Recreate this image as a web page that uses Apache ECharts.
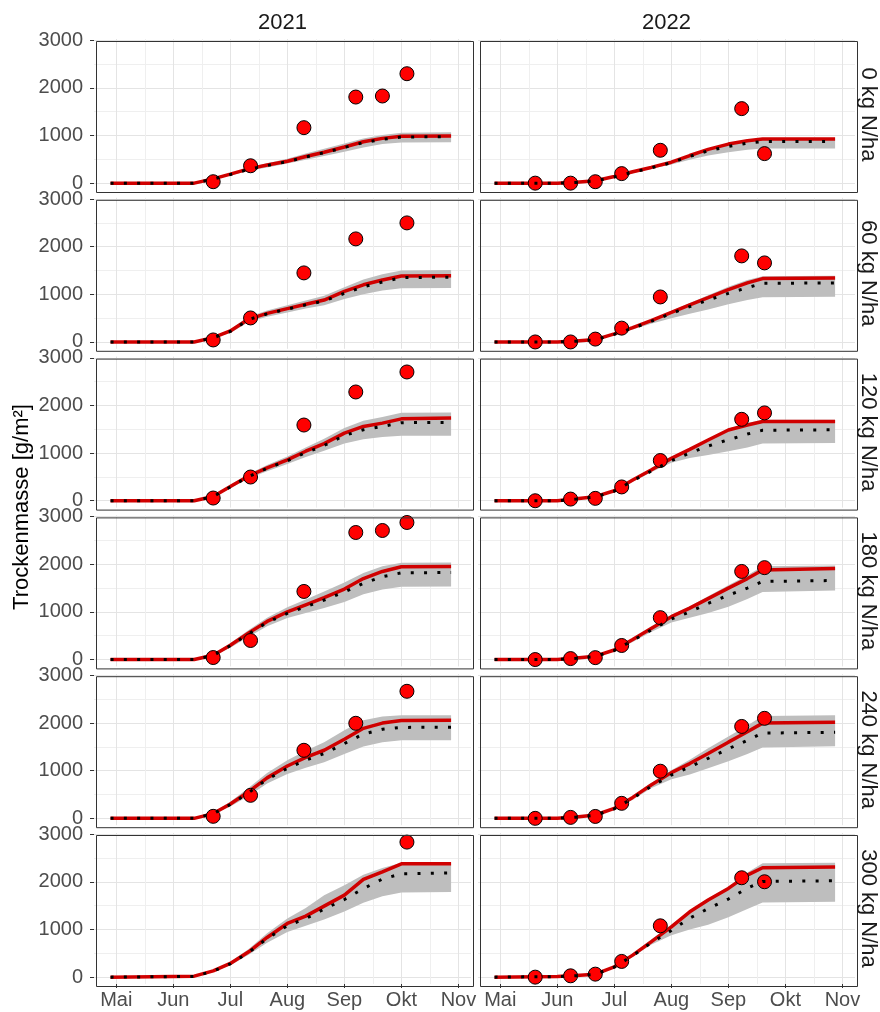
<!DOCTYPE html>
<html><head><meta charset="utf-8">
<script src="https://cdn.jsdelivr.net/npm/echarts@6/dist/echarts.min.js"></script>
<style>html,body{margin:0;padding:0;background:#fff}#c{width:880px;height:1012px}</style>
</head><body><div id="c"></div><script>
const monthLabels = ['Mai','Jun','Jul','Aug','Sep','Okt','Nov'];
const yearLabels = ['2021','2022'];
const nLabels = ['0 kg N/ha','60 kg N/ha','120 kg N/ha','180 kg N/ha','240 kg N/ha','300 kg N/ha'];
const yTicks = [0, 1000, 2000, 3000];

const simDates2021 = ['04-28','06-12','06-22','07-01','07-11','07-21','08-01','08-11','08-21','09-01','09-11','09-21','10-01','10-28'];
const red2021 = [
 [0,0,90,190,300,380,460,560,650,760,870,940,985,990],
 [0,0,90,230,480,600,700,790,880,1060,1200,1300,1385,1390],
 [0,0,90,300,520,690,860,1040,1200,1420,1560,1630,1720,1737],
 [0,0,90,300,560,800,1000,1150,1300,1480,1700,1850,1950,1955],
 [0,0,100,300,560,850,1100,1280,1430,1660,1890,2000,2055,2059],
 [0,20,133,287,532,833,1127,1281,1491,1722,2052,2212,2380,2380]
];
const dot2021 = [
 [0,0,85,180,290,370,450,550,640,750,850,920,970,975],
 [0,0,85,220,470,590,690,780,860,1020,1160,1260,1350,1360],
 [0,0,85,290,510,680,840,1010,1160,1370,1490,1560,1640,1645],
 [0,0,85,290,540,780,970,1110,1250,1420,1600,1740,1820,1830],
 [0,0,95,290,540,820,1050,1220,1360,1570,1770,1870,1910,1912],
 [0,15,125,280,520,810,1080,1230,1430,1630,1860,2060,2170,2191]
];
const lo2021 = [
 [0,0,75,160,260,330,410,490,570,660,750,820,855,860],
 [0,0,75,190,420,530,620,700,770,900,1000,1080,1125,1135],
 [0,0,75,260,470,620,770,920,1050,1200,1290,1340,1365,1365],
 [0,0,75,250,480,700,870,980,1080,1210,1370,1470,1530,1535],
 [0,0,80,250,470,730,930,1060,1180,1350,1510,1600,1640,1640],
 [0,0,110,250,470,720,950,1080,1210,1380,1560,1700,1775,1790]
];
const hi2021 = [
 [0,0,110,210,330,420,510,620,720,830,940,1010,1060,1070],
 [0,0,110,260,530,660,770,870,970,1150,1310,1420,1500,1510],
 [0,0,110,330,560,750,930,1120,1300,1530,1680,1760,1850,1855],
 [0,0,110,340,620,880,1100,1260,1430,1620,1820,1960,2035,2040],
 [0,0,120,350,640,950,1220,1420,1600,1850,2060,2140,2165,2165],
 [0,30,150,320,590,920,1230,1450,1720,1930,2150,2290,2400,2400]
];
const obsDates2021 = ['06-22','07-12','08-10','09-07','09-21','10-04'];
const obs2021 = [
 [30,365,1165,1808,1830,2298],
 [42,504,1450,2164,null,2500],
 [57,498,1590,2284,null,2704],
 [42,400,1430,2668,2710,2878],
 [42,483,1429,1996,null,2668],
 [null,null,null,null,null,2836]
];

const simDates2022 = ['04-28','06-01','06-11','06-21','07-01','07-11','07-21','08-01','08-11','08-21','09-01','09-11','09-19','10-28'];
const red2022 = [
 [0,0,20,50,140,240,330,440,580,710,820,890,926,926],
 [0,0,20,50,170,300,450,620,780,930,1100,1240,1330,1345],
 [0,0,40,85,210,435,645,890,1080,1275,1485,1590,1665,1665],
 [0,0,30,70,200,420,650,900,1080,1280,1500,1700,1880,1912],
 [0,0,30,70,210,440,700,960,1150,1360,1600,1820,2000,2017],
 [0,15,35,63,217,462,742,1057,1372,1618,1863,2143,2297,2311]
];
const dot2022 = [
 [0,0,15,45,130,230,320,430,560,680,770,840,875,877],
 [0,0,15,45,160,290,430,600,740,880,1020,1140,1230,1240],
 [0,0,35,80,200,420,620,840,1000,1150,1280,1400,1480,1490],
 [0,0,25,65,190,400,620,850,1000,1180,1350,1500,1640,1660],
 [0,0,25,65,200,420,670,910,1080,1260,1460,1640,1790,1807],
 [0,12,30,60,210,450,720,980,1240,1440,1640,1870,2010,2023]
];
const lo2022 = [
 [0,0,15,40,120,210,300,390,490,580,650,700,725,730],
 [0,0,15,40,150,260,380,500,590,680,790,880,940,950],
 [0,0,30,70,190,400,600,800,900,960,1040,1120,1200,1210],
 [0,0,20,55,170,370,580,780,880,980,1110,1270,1420,1450],
 [0,0,20,55,180,390,630,820,920,1050,1200,1350,1490,1512],
 [0,10,25,55,200,430,680,880,1000,1100,1260,1430,1570,1582]
];
const hi2022 = [
 [0,0,22,55,145,245,335,450,590,720,830,900,935,935],
 [0,0,22,55,180,315,470,650,820,980,1160,1300,1380,1390],
 [0,0,45,90,220,450,670,920,1110,1300,1510,1630,1700,1700],
 [0,0,35,80,215,440,680,930,1120,1330,1560,1770,1960,1975],
 [0,0,35,80,225,470,740,1010,1230,1470,1720,1950,2150,2164],
 [0,18,40,70,230,490,790,1100,1400,1650,1900,2200,2390,2400]
];
const obsDates2022 = ['05-20','06-08','06-21','07-05','07-26','09-08','09-20'];
const obs2022 = [
 [0,0,30,200,690,1565,620],
 [0,0,60,290,945,1807,1660],
 [0,35,50,290,845,1710,1845],
 [0,20,40,295,880,1850,1930],
 [0,20,40,315,990,1930,2100],
 [0,28,63,330,1078,2087,2003]
];

// ---- build ----
const DIM = [31,28,31,30,31,30,31,31,30,31,30,31];
function mf(md){ const p = md.split('-').map(Number); return (p[0]-5) + (p[1]-1)/DIM[p[0]-1]; }
const years = [
  {sim: simDates2021, red: red2021, dot: dot2021, lo: lo2021, hi: hi2021, od: obsDates2021, obs: obs2021},
  {sim: simDates2022, red: red2022, dot: dot2022, lo: lo2022, hi: hi2022, od: obsDates2022, obs: obs2022}
];
const LEFT = [94, 478], W = 377, TOP0 = 39, DY = 158.8, H = 151;
const FONT = 'Liberation Sans, Arial, sans-serif';
const grids = [], xAxes = [], yAxes = [], series = [], graphics = [];
function bandSeries(gi, xs, lo, hi) {
  return {type: 'custom', xAxisIndex: gi, yAxisIndex: gi, silent: true, z: 1,
    data: xs.map((x, i) => [x, lo[i], hi[i]]),
    encode: {x: 0, y: [1, 2]},
    renderItem: (params, api) => {
      if (params.dataIndex !== 0) return null;
      const up = xs.map((x, i) => api.coord([x, hi[i]]));
      const dn = xs.map((x, i) => api.coord([x, lo[i]])).reverse();
      return {type: 'polygon', shape: {points: up.concat(dn)}, style: {fill: '#bebebe', stroke: null}};
    }};
}
for (let r = 0; r < 6; r++) {
  for (let c = 0; c < 2; c++) {
    const gi = grids.length;
    const top = TOP0 + r * DY;
    grids.push({left: LEFT[c], top: top, width: W, height: H, show: true, backgroundColor: '#fff', borderWidth: 0, containLabel: false});
    xAxes.push({
      type: 'value', gridIndex: gi, min: -0.39, max: 6.22,
      axisLine: {show: false, onZero: false},
      axisTick: {show: r === 5, length: 4, lineStyle: {color: '#333', width: 1}, customValues: [0,1,2,3,4,5,6]},
      axisLabel: {show: r === 5, customValues: [0,1,2,3,4,5,6], margin: 6,
        fontSize: 20, fontFamily: FONT, color: '#4d4d4d',
        formatter: v => (monthLabels[Math.round(v)] || '')},
      splitLine: {show: true, lineStyle: {color: '#e4e4e4', width: 1}},
      minorTick: {show: false, splitNumber: 2},
      minorSplitLine: {show: true, lineStyle: {color: '#efefef', width: 1}}
    });
    yAxes.push({
      type: 'value', gridIndex: gi, min: -144, max: 3027, splitNumber: 3,
      axisLine: {show: false, onZero: false},
      axisTick: {show: c === 0, length: 4, lineStyle: {color: '#333', width: 1}, customValues: yTicks},
      axisLabel: {show: c === 0, customValues: yTicks, margin: 11,
        fontSize: 20, fontFamily: FONT, color: '#4d4d4d', formatter: v => String(v)},
      splitLine: {show: true, lineStyle: {color: '#e4e4e4', width: 1}},
      minorTick: {show: false, splitNumber: 2},
      minorSplitLine: {show: true, lineStyle: {color: '#efefef', width: 1}}
    });
    const Y = years[c];
    const xs = Y.sim.map(mf);
    series.push(bandSeries(gi, xs, Y.lo[r], Y.hi[r]));
    series.push({type: 'line', xAxisIndex: gi, yAxisIndex: gi, symbol: 'none', silent: true,
      lineStyle: {color: '#d00000', width: 3.5}, data: xs.map((x, i) => [x, Y.red[r][i]]), z: 2});
    const pts = [];
    Y.od.forEach((d, i) => { const v = Y.obs[r][i]; if (v !== null) pts.push([mf(d), v]); });
    series.push({type: 'scatter', xAxisIndex: gi, yAxisIndex: gi, symbolSize: 14, silent: true,
      itemStyle: {color: '#ff0000', borderColor: '#000', borderWidth: 1, opacity: 1}, data: pts, z: 3});
    series.push({type: 'line', xAxisIndex: gi, yAxisIndex: gi, symbol: 'none', silent: true,
      lineStyle: {color: '#000', width: 3, type: [3, 10.3], cap: 'butt'}, data: xs.map((x, i) => [x, Y.dot[r][i]]), z: 4});
    graphics.push({type: 'rect', left: LEFT[c], top: top, z: 100, silent: true,
      shape: {x: 0, y: 0, width: W, height: H}, style: {fill: 'none', stroke: '#333', lineWidth: 1}});
  }
  graphics.push({type: 'text', x: 868, y: TOP0 + r * DY + H / 2, rotation: -Math.PI / 2, z: 100, silent: true,
    style: {text: nLabels[r], font: '22px ' + FONT, fill: '#1a1a1a', align: 'center', verticalAlign: 'middle', textAlign: 'center', textVerticalAlign: 'middle'}});
}
yearLabels.forEach((t, c) => graphics.push({type: 'text', x: LEFT[c] + W / 2, y: 23, z: 100, silent: true,
  style: {text: t, font: '22px ' + FONT, fill: '#1a1a1a', align: 'center', verticalAlign: 'middle', textAlign: 'center', textVerticalAlign: 'middle'}}));
graphics.push({type: 'text', x: 22, y: 507, rotation: Math.PI / 2, z: 100, silent: true,
  style: {text: 'Trockenmasse [g/m²]', font: '22px ' + FONT, fill: '#000', align: 'center', verticalAlign: 'middle', textAlign: 'center', textVerticalAlign: 'middle'}});

const chart = echarts.init(document.getElementById('c'), null, {renderer: 'canvas'});
chart.setOption({animation: false, backgroundColor: '#fff', grid: grids, xAxis: xAxes, yAxis: yAxes, series: series, graphic: graphics});
</script></body></html>
